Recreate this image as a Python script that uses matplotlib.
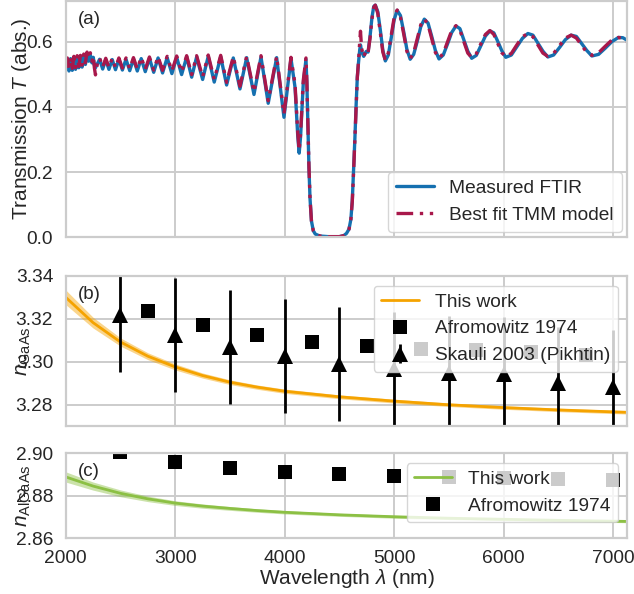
import numpy as np
import matplotlib
matplotlib.use('Agg')
import matplotlib.pyplot as plt
import seaborn as sns

sns.set_theme(style='whitegrid', context='notebook', font_scale=1.25)
plt.rcParams['font.family'] = ['Liberation Sans', 'DejaVu Sans']
plt.rcParams['mathtext.fontset'] = 'custom'
plt.rcParams['mathtext.rm'] = 'Liberation Sans'
plt.rcParams['mathtext.it'] = 'Liberation Sans:italic'
plt.rcParams['axes.linewidth'] = 1.6
plt.rcParams['grid.linewidth'] = 1.4
plt.rcParams['axes.edgecolor'] = '0.8'
plt.rcParams['grid.color'] = '0.8'

# --- panel (a): transmission spectrum ---
wl_nm = [
    # noisy start
    2000, 2015, 2030, 2045, 2060, 2075, 2090, 2105, 2120, 2135,
    2150, 2165, 2180, 2195, 2210, 2225, 2240, 2252, 2262, 2272, 2290,
    # fringes below the stop band
    2310, 2338, 2366, 2395, 2425, 2455, 2486, 2518, 2551, 2585,
    2619, 2654, 2690, 2727, 2765, 2804, 2844, 2885, 2927, 2970,
    3014, 3059, 3105, 3151, 3196, 3251, 3302, 3357, 3416, 3470,
    3531, 3592, 3653, 3720, 3784, 3850, 3927, 3994, 4058, 4095,
    4120, 4133, 4146, 4170, 4195,
    # stop band
    4203, 4212, 4222, 4232, 4245, 4262, 4280, 4320, 4400, 4500,
    4540, 4565, 4588, 4605, 4618, 4630, 4642, 4653, 4664, 4676,
    4686, 4693, 4703, 4722, 4745, 4762, 4780, 4798, 4814, 4828,
    # fringes above the stop band
    4851, 4874, 4897, 4920, 4947, 4974, 5001, 5028,
    5058, 5088, 5117, 5147, 5179, 5212, 5244, 5276,
    5310, 5343, 5377, 5410, 5449, 5488, 5526, 5565,
    5601, 5637, 5673, 5709, 5751, 5792, 5834, 5875,
    5911, 5948, 5984, 6020, 6071, 6121, 6172, 6222,
    6268, 6313, 6359, 6404, 6457, 6511, 6564, 6617,
    6665, 6712, 6760, 6807, 6868, 6929, 6989, 7050,
    7090, 7130,
]
t_tmm = [
    .530, .550, .512, .552, .518, .555, .520, .557, .524, .558,
    .528, .562, .535, .568, .548, .566, .540, .556, .520, .498, .535,
    .550, .522, .549, .521, .549, .520, .550, .519, .550, .517,
    .551, .516, .552, .515, .553, .513, .554, .512, .555, .510,
    .556, .507, .557, .499, .557, .492, .559, .484, .558, .475,
    .554, .463, .555, .446, .557, .419, .555, .378, .552, .470,
    .320, .266, .320, .480, .550,
    .480, .360, .220, .120, .050, .020, .010, .004, .002, .002,
    .005, .012, .025, .055, .110, .200, .300, .400, .490, .545,
    .600, .632, .580, .553, .573, .565, .610, .670, .705, .712,
    .687, .628, .568, .543, .565, .620, .675, .697,
    .675, .623, .570, .548, .566, .609, .652, .670,
    .652, .610, .567, .549, .564, .599, .634, .649,
    .635, .600, .565, .551, .563, .593, .622, .634,
    .622, .594, .566, .554, .564, .590, .615, .625,
    .615, .590, .565, .555, .564, .588, .611, .620,
    .611, .589, .567, .558, .566, .586, .605, .613,
    .609, .600,
]
t_ftir = [
    .522, .545, .510, .548, .512, .552, .515, .550, .520, .556,
    .522, .558, .530, .565, .540, .560, .535, .552, .528, .520, .532,
    .546, .516, .545, .515, .545, .514, .546, .513, .546, .511,
    .547, .510, .548, .508, .549, .506, .550, .504, .551, .502,
    .552, .499, .553, .491, .553, .484, .555, .476, .554, .467,
    .550, .455, .551, .438, .553, .411, .551, .368, .548, .460,
    .310, .258, .310, .470, .546,
    .475, .355, .215, .118, .050, .020, .010, .004, .002, .002,
    .005, .012, .025, .055, .112, .205, .305, .405, .492, .540,
    .575, .590, .570, .555, .570, .568, .615, .675, .708, .712,
    .692, .636, .574, .541, .559, .612, .668, .696,
    .680, .630, .576, .546, .561, .602, .646, .669,
    .657, .617, .573, .547, .559, .593, .628, .648,
    .640, .606, .571, .549, .558, .587, .617, .633,
    .627, .600, .572, .552, .559, .584, .610, .625,
    .620, .596, .571, .553, .559, .582, .606, .620,
    .616, .595, .573, .556, .561, .580, .600, .613,
    .612, .604,
]

# --- panels (b) and (c): refractive indices ---
fit_wl = [2000, 2250, 2500, 2750, 3000, 3250, 3500, 3750, 4000, 4500,
          5000, 5500, 6000, 6500, 7000, 7130]
n_gaas = [3.3301, 3.3183, 3.3093, 3.3027, 3.2977, 3.2937, 3.2906, 3.2883,
          3.2864, 3.2838, 3.2818, 3.2801, 3.2788, 3.2777, 3.2768, 3.2766]
n_gaas_err = [0.0034, 0.0025, 0.0019, 0.0016, 0.0014, 0.0012, 0.0011, 0.0010,
              0.0010, 0.0009, 0.0009, 0.0008, 0.0008, 0.0008, 0.0008, 0.0008]
n_algaas = [2.8889, 2.8846, 2.8812, 2.8786, 2.8766, 2.8752, 2.8741, 2.8731,
            2.8723, 2.8711, 2.8702, 2.8695, 2.8690, 2.8685, 2.8681, 2.8680]
n_algaas_err = [0.0024, 0.0019, 0.0016, 0.0013, 0.0011, 0.0010, 0.0009, 0.0008,
                0.0008, 0.0007, 0.0007, 0.0006, 0.0006, 0.0006, 0.0006, 0.0006]

afro_gaas_wl = [2750, 3250, 3750, 4250, 4750, 5250, 5750, 6250, 6750]
afro_gaas_n = [3.3236, 3.3171, 3.3124, 3.3095, 3.3076, 3.3062, 3.3056, 3.3046, 3.3034]

skauli_wl = [2500, 3000, 3500, 4000, 4500, 5000, 5500, 6000, 6500, 7000]
skauli_n = [3.3218, 3.3127, 3.3068, 3.3029, 3.2992, 3.2968, 3.2948, 3.2945, 3.2900, 3.2882]
skauli_err = 0.0265

afro_algaas_wl = [2500, 3000, 3500, 4000, 4500, 5000, 5500, 6000, 6500, 7000]
afro_algaas_n = [2.9005, 2.8958, 2.8931, 2.8914, 2.8902, 2.8893, 2.8887, 2.8882, 2.8878, 2.8875]

blue = '#1570b0'
red = '#a8184b'
orange = '#f5a300'
green = '#8cc044'

fig = plt.figure(figsize=(6.34, 5.94), dpi=100)
ax_a = fig.add_axes([0.1036, 0.6005, 0.8858, 0.398])
ax_b = fig.add_axes([0.1036, 0.2820, 0.8858, 0.2534], sharex=ax_a)
ax_c = fig.add_axes([0.1036, 0.0935, 0.8858, 0.1434], sharex=ax_a)

# (a) transmission
ax_a.plot(wl_nm, t_ftir, color=blue, lw=2.4, label='Measured FTIR')
ax_a.plot(wl_nm, t_tmm, color=red, lw=2.4, ls=(0, (5, 2, 1, 2, 1, 2)),
          label='Best fit TMM model')
ax_a.set_ylim(0, 0.725)
ax_a.set_yticks([0.0, 0.2, 0.4, 0.6])
ax_a.set_ylabel('Transmission $T$ (abs.)')
ax_a.legend(loc='lower right', borderaxespad=0.3)

# (b) GaAs
fit_wl = np.array(fit_wl)
n_gaas = np.array(n_gaas)
n_gaas_err = np.array(n_gaas_err)
ax_b.fill_between(fit_wl, n_gaas - n_gaas_err, n_gaas + n_gaas_err,
                  color=orange, alpha=0.45, lw=0)
ax_b.plot(fit_wl, n_gaas, color=orange, lw=2, label='This work')
ax_b.plot(afro_gaas_wl, afro_gaas_n, 's', color='black', ms=10, mew=0,
          label='Afromowitz 1974')
ax_b.errorbar(skauli_wl, skauli_n, yerr=skauli_err, fmt='^', color='black',
              ms=11, mew=0, elinewidth=2, capsize=0, label='Skauli 2003 (Pikhtin)')
ax_b.set_ylim(3.27, 3.34)
ax_b.set_yticks([3.28, 3.30, 3.32, 3.34])
ax_b.yaxis.set_major_formatter(matplotlib.ticker.FormatStrFormatter('%.2f'))
ax_b.set_ylabel(r'$n_\mathrm{GaAs}$')
ax_b.legend(loc='upper right')

# (c) AlGaAs
n_algaas = np.array(n_algaas)
n_algaas_err = np.array(n_algaas_err)
ax_c.fill_between(fit_wl, n_algaas - n_algaas_err, n_algaas + n_algaas_err,
                  color=green, alpha=0.45, lw=0)
ax_c.plot(fit_wl, n_algaas, color=green, lw=2, label='This work')
ax_c.plot(afro_algaas_wl, afro_algaas_n, 's', color='black', ms=10, mew=0,
          label='Afromowitz 1974')
ax_c.set_ylim(2.86, 2.90)
ax_c.set_yticks([2.86, 2.88, 2.90])
ax_c.yaxis.set_major_formatter(matplotlib.ticker.FormatStrFormatter('%.2f'))
ax_c.set_ylabel(r'$n_\mathrm{AlGaAs}$')
ax_c.legend(loc='upper right')

ax_c.set_xlim(2000, 7130)
ax_c.set_xticks([2000, 3000, 4000, 5000, 6000, 7000])
ax_c.tick_params(axis='x', pad=2)
ax_c.set_xlabel(r'Wavelength $\lambda$ (nm)', labelpad=0)
ax_a.tick_params(labelbottom=False)
ax_b.tick_params(labelbottom=False)

for ax, letter in [(ax_a, '(a)'), (ax_b, '(b)'), (ax_c, '(c)')]:
    ax.tick_params(axis='y', pad=3)
    ax.yaxis.set_label_coords(-0.059, 0.5)
    ax.annotate(letter, xy=(0, 1), xycoords='axes fraction', xytext=(8.5, -7),
                textcoords='offset points', ha='left', va='top', fontsize=13.5)

fig.savefig('out.png', dpi=100)
